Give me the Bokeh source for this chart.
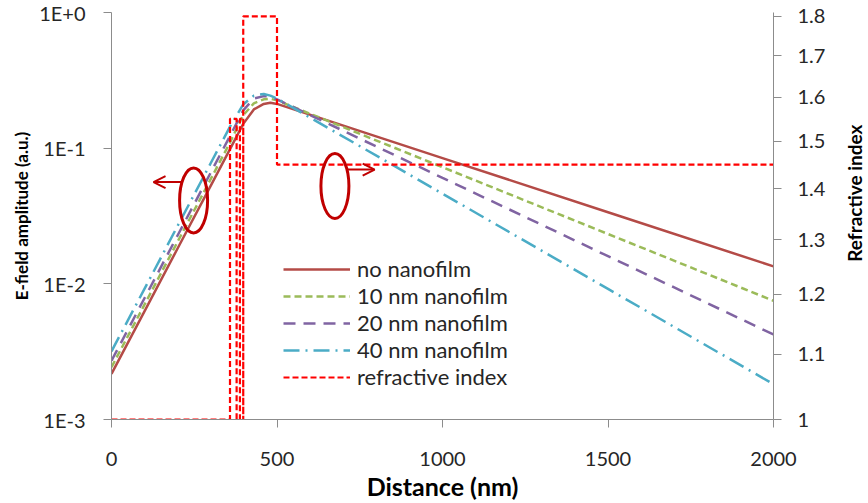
import math
from bokeh.plotting import figure
from bokeh.layouts import row
from bokeh.core.properties import value
from bokeh.models import (Range1d, LinearAxis, FixedTicker, CustomJSTickFormatter,
                          Legend, LegendItem, Arrow, OpenHead)
from bokeh.embed import file_html
from bokeh.resources import INLINE

# ---------------- data ----------------
distance_nm = [0, 100, 200, 300, 358, 398, 430, 460, 480, 500, 1000, 1500, 2000]
e_no_film   = [0.00217, 0.00630, 0.0183, 0.0530, 0.0985, 0.151, 0.193, 0.212, 0.216, 0.212, 0.0845, 0.0337, 0.01345]
e_10nm      = [0.00243, 0.00705, 0.0205, 0.0593, 0.110, 0.175, 0.214, 0.229, 0.231, 0.225, 0.0724, 0.0233, 0.00750]
e_20nm      = [0.00271, 0.00786, 0.0228, 0.0662, 0.123, 0.190, 0.232, 0.242, 0.240, 0.229, 0.0604, 0.0160, 0.00423]
e_40nm      = [0.00318, 0.00922, 0.0268, 0.0777, 0.144, 0.210, 0.244, 0.251, 0.244, 0.232, 0.0462, 0.00918, 0.00182]

ri_x = [0, 358, 358, 378, 378, 388, 388, 398, 398, 398, 500, 500, 2000]
ri_n = [1.0, 1.0, 1.55, 1.55, 1.0, 1.0, 1.55, 1.55, 1.0, 1.8, 1.8, 1.45, 1.45]

series_labels = ["no nanofilm", "10 nm nanofilm", "20 nm nanofilm", "40 nm nanofilm", "refractive index"]

x_ticks = [0, 500, 1000, 1500, 2000]
left_ticks = [1e-3, 1e-2, 1e-1, 1.0]
right_ticks = [1.0, 1.1, 1.2, 1.3, 1.4, 1.5, 1.6, 1.7, 1.8]

# annotation anchors (data units)
ell_x = [248, 675]
ell_y = [0.0412, 0.0526]
arrow_left = (213, 127, 0.0562)
arrow_right = (714, 795, 0.0695)

# ---------------- figure ----------------
FONT = "Lato"
AXIS_GREY = "#8C8C8C"
TICK_TXT = "#262626"

p = figure(width=828, height=503, x_range=Range1d(0, 2000), y_range=Range1d(1e-3, 1.0),
           y_axis_type="log", output_backend="svg", toolbar_location=None,
           min_border_left=111, min_border_right=53, min_border_top=12, min_border_bottom=80)
p.outline_line_color = None
p.grid.visible = False
p.background_fill_color = "white"
p.border_fill_color = "white"
p.extra_y_ranges = {"n": Range1d(1.0, 1.81)}

xa = p.xaxis[0]
xa.ticker = FixedTicker(ticks=x_ticks)
xa.axis_label = "Distance (nm)"
ya = p.yaxis[0]
ya.ticker = FixedTicker(ticks=left_ticks)
ya.formatter = CustomJSTickFormatter(code="""
const e = Math.round(Math.log10(tick));
return "1E" + (e >= 0 ? "+" + e : String(e));
""")
ya.axis_label = "E-field amplitude (a.u.)"

ra = LinearAxis(y_range_name="n", ticker=FixedTicker(ticks=right_ticks),
                formatter=CustomJSTickFormatter(code="return tick.toFixed(1).replace(/\\.0$/, '');"))
p.add_layout(ra, "right")

for ax in (xa, ya, ra):
    ax.axis_line_color = AXIS_GREY
    ax.major_tick_line_color = AXIS_GREY
    ax.minor_tick_line_color = None
    ax.major_tick_in = 0
    ax.major_tick_out = 8
    ax.major_label_text_font = FONT
    ax.major_label_text_font_size = "20px"
    ax.major_label_text_color = TICK_TXT
    ax.axis_label_text_font = FONT
    ax.axis_label_text_font_style = "bold"
    ax.axis_label_text_color = "black"

xa.axis_label_text_font_size = "25px"
ya.axis_label_text_font_size = "17px"

xa.major_label_standoff = 24
xa.axis_label_standoff = 2
ya.major_label_standoff = 18
ya.axis_label_standoff = 4
ra.major_label_standoff = 16

# ---------------- curves ----------------
r1 = p.line(distance_nm, e_no_film, line_color="#B44B47", line_width=2.5)
r2 = p.line(distance_nm, e_10nm, line_color="#9BBB59", line_width=2.5, line_dash="7 4")
r3 = p.line(distance_nm, e_20nm, line_color="#8064A2", line_width=2.5, line_dash="12 8")
r4 = p.line(distance_nm, e_40nm, line_color="#4BACC6", line_width=2.5, line_dash="16 6 2 6")
r5 = p.line(ri_x, ri_n, y_range_name="n", line_color="#FF0000", line_width=2.2, line_dash="6 3")

# ---------------- annotations ----------------
p.ellipse(x=ell_x, y=ell_y, width=28, height=65, width_units="screen", height_units="screen",
          fill_color=None, line_color="#C00000", line_width=3)
for (xs, xe, yy) in (arrow_left, arrow_right):
    p.add_layout(Arrow(end=OpenHead(size=12, line_color="#C00000", line_width=2),
                       x_start=xs, y_start=yy, x_end=xe, y_end=yy,
                       line_color="#C00000", line_width=2))

legend = Legend(items=[LegendItem(label=lab, renderers=[r]) for lab, r in
                       zip(series_labels, [r1, r2, r3, r4, r5])],
                location=(172, 29), orientation="vertical",
                glyph_width=67, glyph_height=26, label_height=26, spacing=0,
                padding=0, margin=0, label_standoff=7,
                border_line_alpha=0, background_fill_alpha=0,
                label_text_font=FONT, label_text_font_size="22px", label_text_color=TICK_TXT)
p.add_layout(legend)

# ---------------- right-hand axis title strip ----------------
t = figure(width=40, height=503, x_range=Range1d(0, 40), y_range=Range1d(0, 503),
           output_backend="svg", toolbar_location=None, min_border=0,
           x_axis_location=None, y_axis_location=None)
t.grid.visible = False
t.outline_line_color = None
t.background_fill_color = "white"
t.border_fill_color = "white"
t.text(x=[26], y=[195], text=["Refractive index"], angle=math.pi / 2,
       text_align="left", text_baseline="middle",
       text_font=value(FONT), text_font_size=value("19px"),
       text_font_style=value("bold"), text_color="black")

layout = row(p, t, spacing=0)
open("out.html", "w").write(file_html(layout, INLINE))
